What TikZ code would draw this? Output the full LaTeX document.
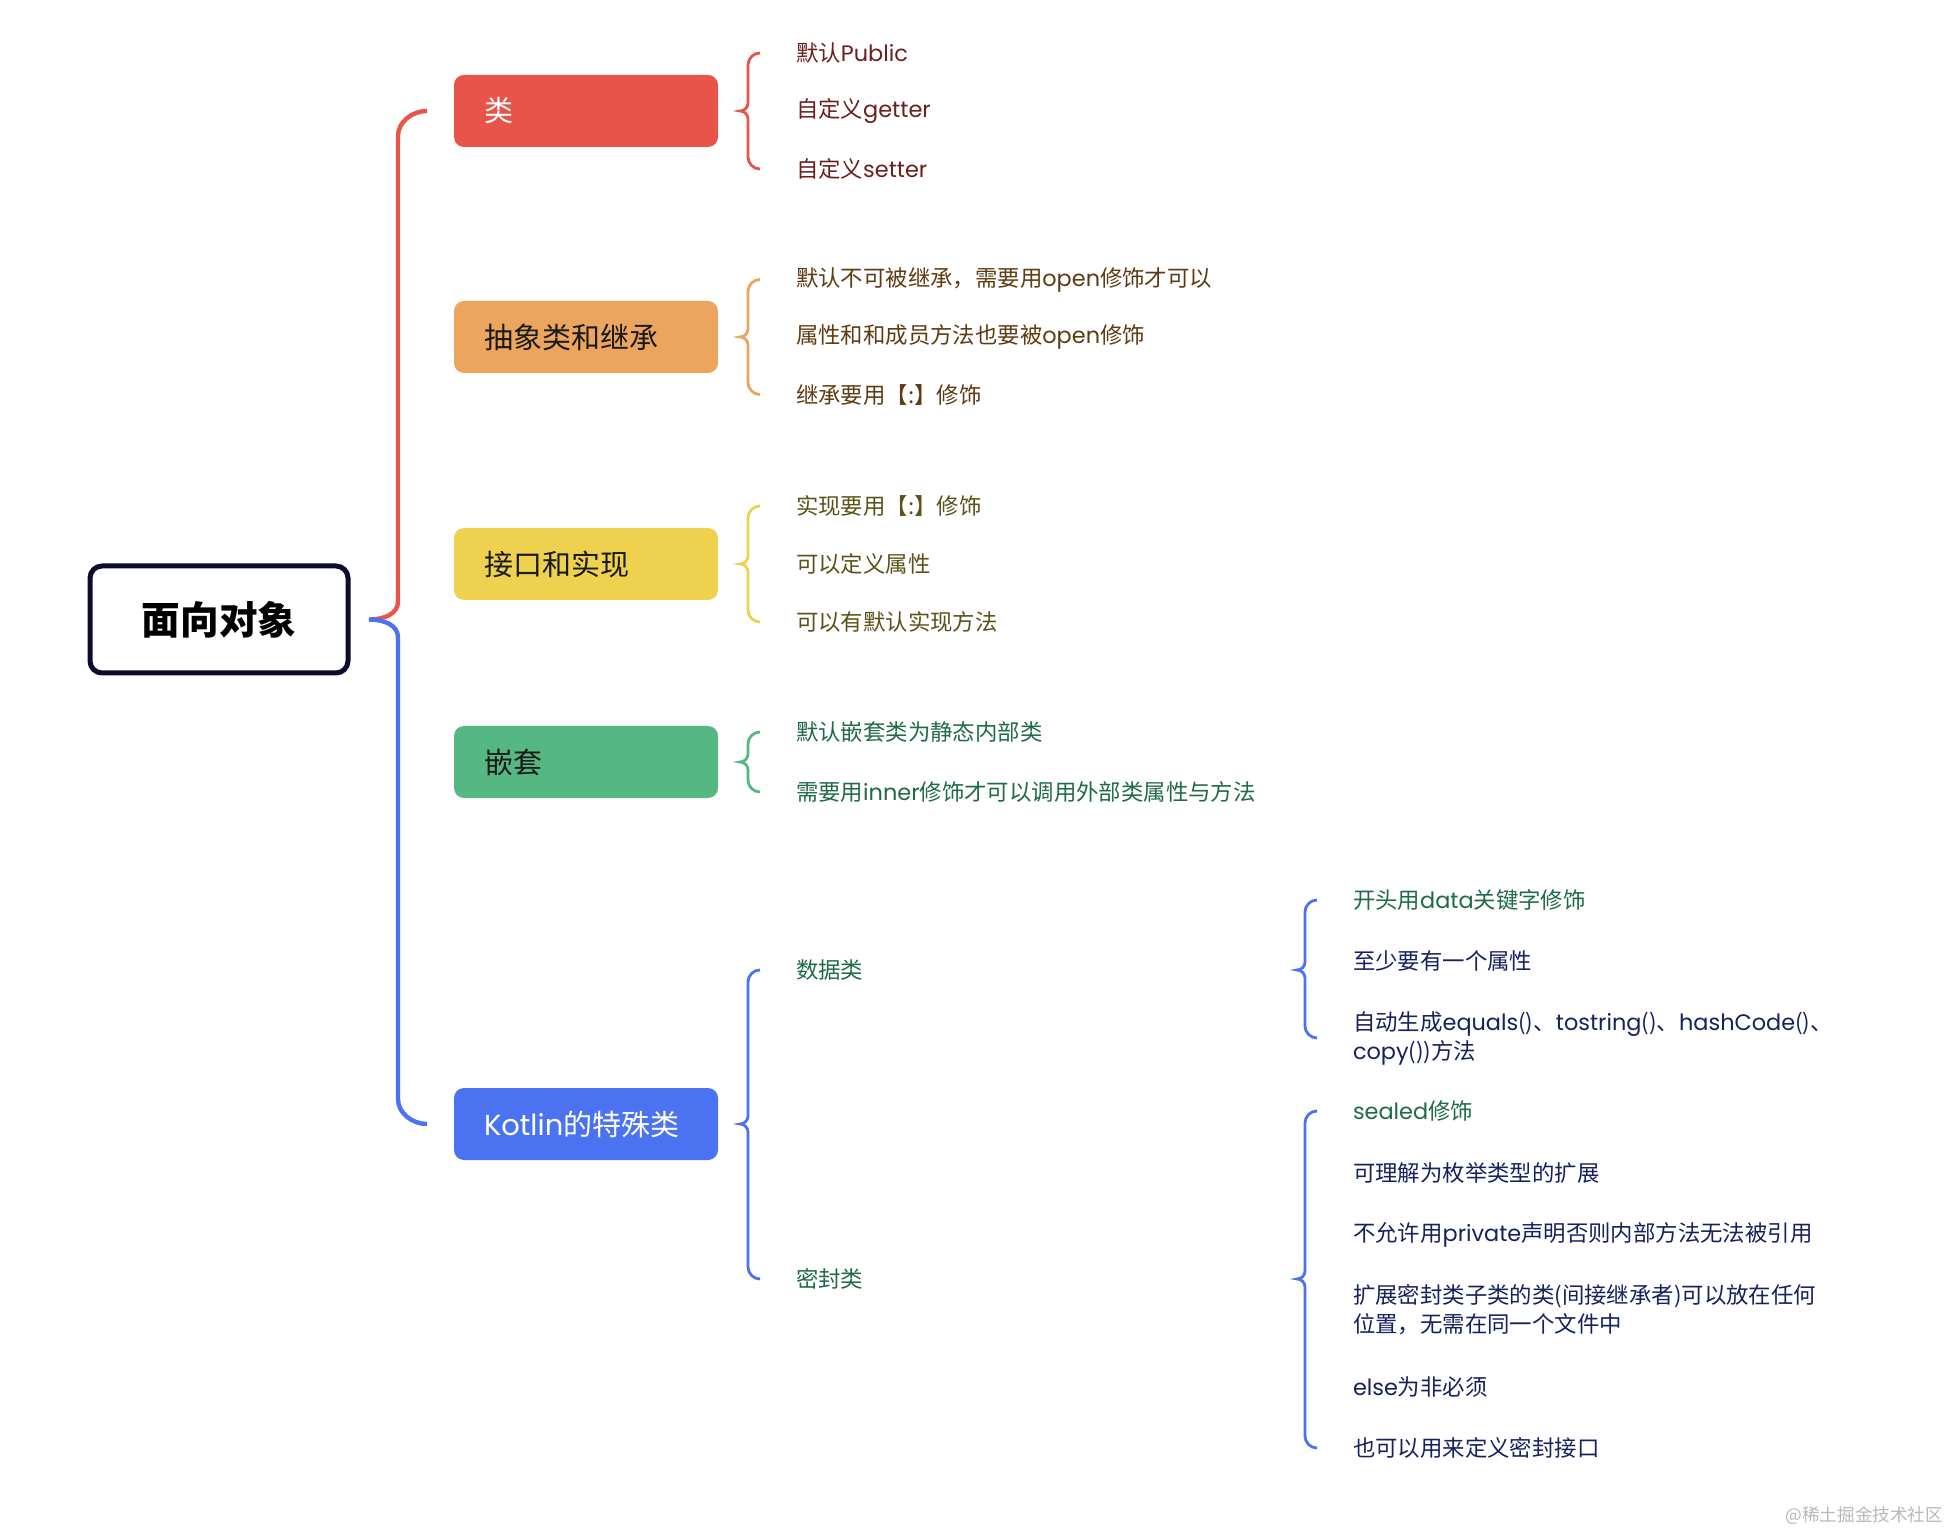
\documentclass[tikz,border=0pt]{standalone}
\usepackage{fontspec}
\setmainfont{Noto Sans CJK SC}
\newfontfamily\latf{Poppins}
\newcommand\lt[1]{{\latf #1}}
\usetikzlibrary{calc}
\definecolor{cRed}{HTML}{E8534A}
\definecolor{cOrg}{HTML}{EBA55E}
\definecolor{cYel}{HTML}{EDD14F}
\definecolor{cGrn}{HTML}{55B883}
\definecolor{cBlu}{HTML}{4B72F0}
\definecolor{tRed}{HTML}{6B1F1F}
\definecolor{tOrg}{HTML}{5E3B12}
\definecolor{tYel}{HTML}{5A5218}
\definecolor{tGrn}{HTML}{1E6B46}
\definecolor{tNav}{HTML}{16215E}
\definecolor{rootc}{HTML}{0C0C2C}
\definecolor{boxtxt}{HTML}{1A1A1A}
\newcommand\brc[4]{%
  \path ($(#2.west)+(-36,0)$) coordinate (E1)
        ($(#3.west)+(-36,0)$) coordinate (E2);
  \path ($(E1 |- #4)+(-20,0)$) coordinate (T);
  \draw[brc,#1] (E1) .. controls ($(E1)+(-6.6,0)$) and ($(E1)+(-12,5.4)$) .. ($(E1)+(-12,12)$)
     -- ($(T)+(8,-8)$) .. controls ($(T)+(8,-3.6)$) and ($(T)+(4.4,0)$) .. (T)
     .. controls ($(T)+(4.4,0)$) and ($(T)+(8,3.6)$) .. ($(T)+(8,8)$)
     -- ($(E2)+(-12,-12)$) .. controls ($(E2)+(-12,-5.4)$) and ($(E2)+(-6.6,0)$) .. (E2);
}
\begin{document}
\begin{tikzpicture}[x=0.5pt,y=-0.5pt,
  every node/.style={outer sep=0pt},
  box/.style={rounded corners=5pt, minimum height=36pt, inner xsep=15pt, inner ysep=0pt,
    text=boxtxt, font=\fontsize{14.5}{17}\selectfont},
  leaf/.style={anchor=west, inner sep=0pt, align=left, font=\fontsize{11.2}{14.5}\selectfont},
  mainline/.style={line width=2.2pt},
  brc/.style={line width=1.4pt}]
\fill[white] (0,0) rectangle (1950,1534);
\useasboundingbox (0,0) rectangle (1950,1534);

\node[draw=rootc, line width=2.5pt, rounded corners=6pt, minimum width=129pt, minimum height=53.5pt,
  font=\fontsize{19.3}{22}\selectfont\bfseries, text=black] (root) at (219,619.5) {面向对象};

\node[box, fill=cRed, text=white] (lei) at (586,111) {\makebox[102pt][l]{类}};
\node[box, fill=cOrg] (abs) at (586,337) {\makebox[102pt][l]{抽象类和继承}};
\node[box, fill=cYel] (itf) at (586,564) {\makebox[102pt][l]{接口和实现}};
\node[box, fill=cGrn] (nest) at (586,762) {\makebox[102pt][l]{嵌套}};
\node[box, fill=cBlu, text=white] (kot) at (586,1124) {\makebox[102pt][l]{\lt{Kotlin}的特殊类}};

% main connectors
\path ($(root.east)+(21,0)$) coordinate (S);
\path (S) ++(29,0) coordinate (V);
\draw[mainline, cRed] (S) .. controls ($(S)+(16,0)$) and ($(V)+(0,-6)$) .. ($(V)+(0,-18)$)
  -- ($(V |- lei.west)+(0,25)$) .. controls ($(V |- lei.west)+(0,11)$) and ($(lei.west)+(-42,0)$) .. ($(lei.west)+(-27,0)$);
\draw[mainline, cBlu] (S) .. controls ($(S)+(16,0)$) and ($(V)+(0,6)$) .. ($(V)+(0,18)$)
  -- ($(V |- kot.west)+(0,-25)$) .. controls ($(V |- kot.west)+(0,-11)$) and ($(kot.west)+(-42,0)$) .. ($(kot.west)+(-27,0)$);

% leaves of 类
\node[leaf, text=tRed] (a1) at (796,53) {默认\lt{Public}};
\node[leaf, text=tRed] (a2) at (796,111) {自定义\lt{getter}};
\node[leaf, text=tRed] (a3) at (796,169) {自定义\lt{setter}};
\brc{cRed}{a1}{a3}{lei}

% leaves of 抽象类和继承
\node[leaf, text=tOrg] (b1) at (796,279.5) {默认不可被继承，需要用\lt{open}修饰才可以};
\node[leaf, text=tOrg] (b2) at (796,337) {属性和和成员方法也要被\lt{open}修饰};
\node[leaf, text=tOrg] (b3) at (796,394.5) {继承要用【:】修饰};
\brc{cOrg}{b1}{b3}{abs}

% leaves of 接口和实现
\node[leaf, text=tYel] (c1) at (796,506) {实现要用【:】修饰};
\node[leaf, text=tYel] (c2) at (796,564) {可以定义属性};
\node[leaf, text=tYel] (c3) at (796,622) {可以有默认实现方法};
\brc{cYel}{c1}{c3}{itf}

% leaves of 嵌套
\node[leaf, text=tGrn] (d1) at (796,732) {默认嵌套类为静态内部类};
\node[leaf, text=tGrn] (d2) at (796,792) {需要用\lt{inner}修饰才可以调用外部类属性与方法};
\brc{cGrn}{d1}{d2}{nest}

% Kotlin
\node[leaf, text=tGrn] (k1) at (796,970) {数据类};
\node[leaf, text=tGrn] (k2) at (796,1279) {密封类};
\brc{cBlu}{k1}{k2}{kot}

% data class
\node[leaf, text=tGrn] (e1) at (1353,900) {开头用\lt{data}关键字修饰};
\node[leaf, text=tNav] (e2) at (1353,961) {至少要有一个属性};
\node[leaf, text=tNav] (e3) at (1353,1038) {自动生成\lt{equals}()、\lt{tostring}()、\lt{hashCode}()、\\\lt{copy}())方法};
\brc{cBlu}{e1}{e3}{k1}

% sealed class
\node[leaf, text=tGrn] (f1) at (1353,1111) {\lt{sealed}修饰};
\node[leaf, text=tNav] (f2) at (1353,1173) {可理解为枚举类型的扩展};
\node[leaf, text=tNav] (f3) at (1353,1235) {不允许用\lt{private}声明否则内部方法无法被引用};
\node[leaf, text=tNav] (f4) at (1353,1310) {扩展密封类子类的类(间接继承者)可以放在任何\\位置，无需在同一个文件中};
\node[leaf, text=tNav] (f5) at (1353,1387) {\lt{else}为非必须};
\node[leaf, text=tNav] (f6) at (1353,1448) {也可以用来定义密封接口};
\brc{cBlu}{f1}{f6}{k2}

\node[anchor=east, inner sep=0pt, text=black!28, font=\fontsize{8.8}{10}\selectfont] (wm) at (1943,1516) {@稀土掘金技术社区};
\end{tikzpicture}
\end{document}
